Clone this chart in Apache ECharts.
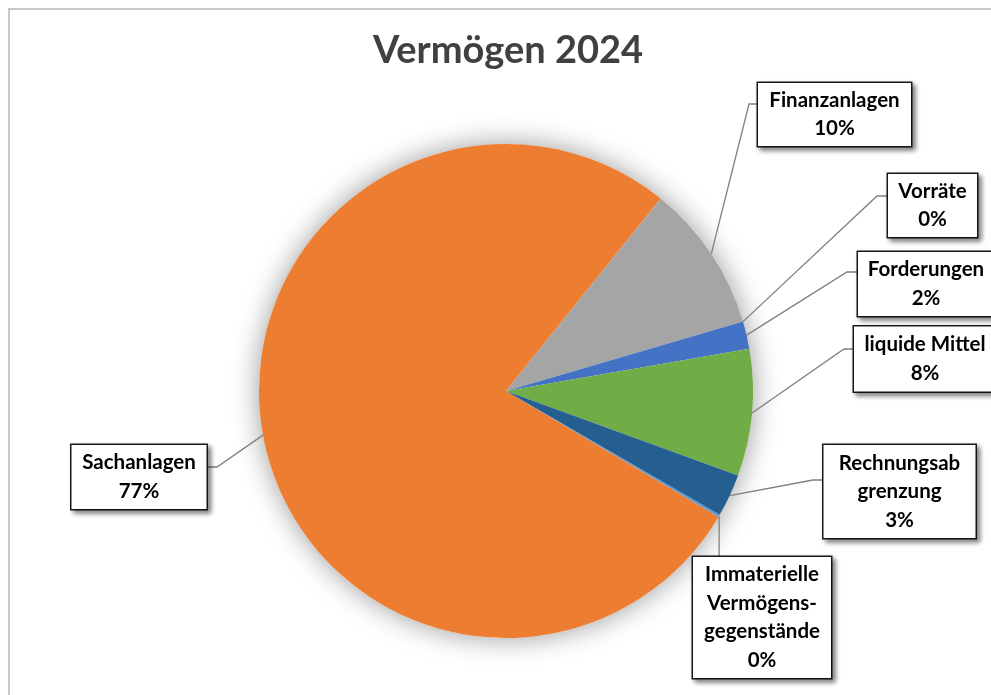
<!DOCTYPE html>
<html>
<head>
<meta charset="utf-8">
<script src="https://cdn.jsdelivr.net/npm/echarts@6/dist/echarts.min.js"></script>
<style>
html, body { margin: 0; padding: 0; background: #fff; }
#chart { width: 991px; height: 695px; }
</style>
</head>
<body>
<div id="chart"></div>
<script>
// ---- data (HGB balance sheet order) ----
const categories = [
  'Immaterielle\nVermögens-\ngegenstände',
  'Sachanlagen',
  'Finanzanlagen',
  'Vorräte',
  'Forderungen',
  'liquide Mittel',
  'Rechnungsab\ngrenzung'
];
const values = [0.15, 77.3, 9.7, 0, 1.8, 8.3, 2.8];
const colors = ['#5B9BD5', '#ED7D31', '#A5A5A5', '#FFC000', '#4472C4', '#70AD47', '#255E91'];
const titleText = 'Vermögen 2024';

// ---- label box placement (layout, not data) ----
const boxes = [
  { cx: 762,   cy: 617.5, w: 138, h: 121, bend: null,        endY: 557 },
  { cx: 139,   cy: 477,   w: 135, h: 64,  bend: [217, 467],  end: [207, 467] },
  { cx: 834.5, cy: 114.5, w: 153, h: 63,  bend: [749, 104],  end: [758, 104] },
  { cx: 932.5, cy: 205.5, w: 89,  h: 63,  bend: [877, 196],  end: [888, 196] },
  { cx: 926,   cy: 284,   w: 136, h: 64,  bend: [847, 272],  end: [858, 272] },
  { cx: 925,   cy: 359,   w: 142, h: 65,  bend: [844, 349],  end: [854, 349] },
  { cx: 899.5, cy: 491.5, w: 152, h: 93,  bend: [813, 480],  end: [823, 480] }
];
const LINE_H = 28.5;

const total = values.reduce((a, b) => a + b, 0);
const CENTER = [506, 391];
const RADIUS = 247;

const chart = echarts.init(document.getElementById('chart'), null, { renderer: 'canvas' });

const pieData = categories.map((name, i) => {
  const b = boxes[i];
  const lines = name.split('\n').length + 1;
  const pv = Math.max(0, (b.h - lines * LINE_H) / 2);
  return {
    name: name,
    value: values[i],
    itemStyle: { color: colors[i] },
    label: { width: b.w, padding: [pv, 0, pv, 0] }
  };
});

chart.setOption({
  animation: false,
  backgroundColor: '#ffffff',
  title: {
    text: titleText,
    left: 503,
    top: 27,
    textAlign: 'center',
    textStyle: { fontFamily: 'Lato', fontWeight: 'bold', fontSize: 38, color: '#404040' }
  },
  graphic: [{
    type: 'rect',
    z: -10,
    silent: true,
    shape: { x: 9, y: 9, width: 1100, height: 800 },
    style: { fill: 'none', stroke: '#c8c8c8', lineWidth: 2 }
  }],
  series: [
    {
      // soft drop shadow behind the pie
      type: 'pie',
      silent: true,
      z: 1,
      center: CENTER,
      radius: RADIUS,
      label: { show: false },
      labelLine: { show: false },
      emphasis: { disabled: true },
      data: [{ value: total, itemStyle: { color: '#ffffff', shadowBlur: 28, shadowColor: 'rgba(0,0,0,0.4)' } }]
    },
    {
      type: 'pie',
      z: 2,
      center: CENTER,
      radius: RADIUS,
      startAngle: -30.1,
      clockwise: true,
      avoidLabelOverlap: false,
      emphasis: { disabled: true },
      itemStyle: { borderWidth: 0 },
      label: {
        show: true,
        position: 'outside',
        formatter: p => p.name + '\n' + Math.round(p.percent) + '%',
        fontFamily: 'Lato',
        fontWeight: 'bold',
        fontSize: 20.5,
        lineHeight: LINE_H,
        color: '#000000',
        align: 'center',
        backgroundColor: '#ffffff',
        borderColor: '#1a1a1a',
        borderWidth: 1.5,
        shadowColor: 'rgba(0,0,0,0.45)',
        shadowBlur: 5,
        shadowOffsetX: 3,
        shadowOffsetY: 3
      },
      labelLine: {
        show: true,
        lineStyle: { color: '#808080', width: 1.3 }
      },
      labelLayout: function (p) {
        const b = boxes[p.dataIndex];
        if (!b) return {};
        const pts = p.labelLinePoints;
        const s = pts && pts[0] ? pts[0] : [b.cx, b.cy];
        let linePts;
        if (b.bend) {
          linePts = [s, b.bend, b.end];
        } else {
          linePts = [s, [s[0], b.endY], [s[0], b.endY]];
        }
        return {
          x: b.cx,
          y: b.cy,
          align: 'center',
          verticalAlign: 'middle',
          labelLinePoints: linePts
        };
      },
      data: pieData
    }
  ]
});
</script>
</body>
</html>
